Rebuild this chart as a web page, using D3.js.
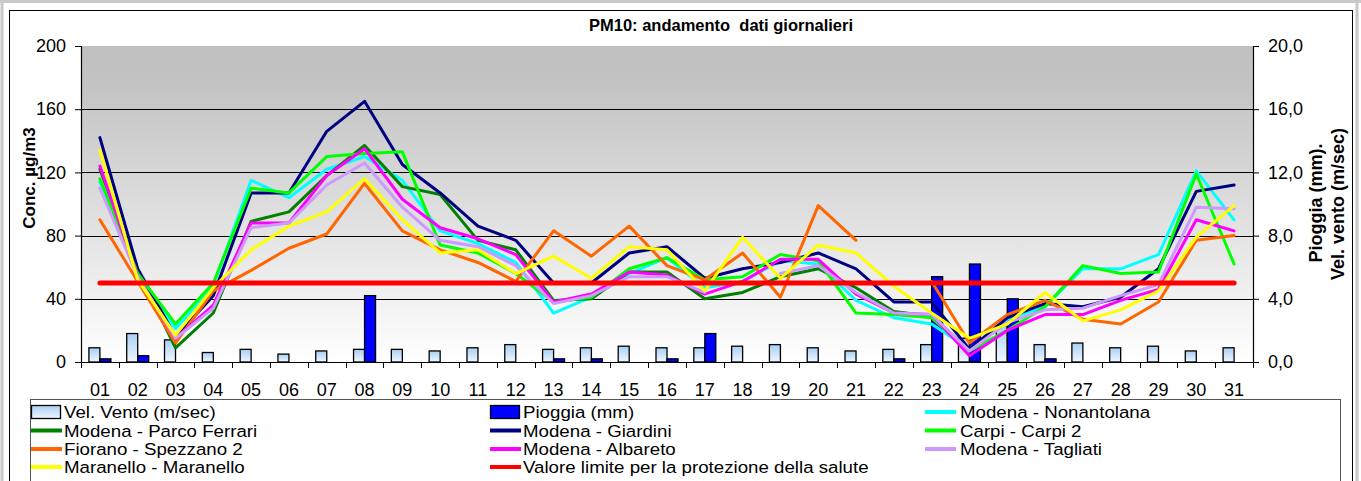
<!DOCTYPE html>
<html>
<head>
<meta charset="utf-8">
<script src="https://cdn.jsdelivr.net/npm/d3@7/dist/d3.min.js"></script>
<style>
  body { margin: 0; background: #fff; }
  svg { display: block; font-family: "Liberation Sans", Arial, sans-serif; }
</style>
</head>
<body>
<div id="chart"></div>
<script>
// Giorni del mese (categorie asse X)
const giorni = ['01','02','03','04','05','06','07','08','09','10','11','12','13','14','15','16',
  '17','18','19','20','21','22','23','24','25','26','27','28','29','30','31'];

// Asse destro: vento (m/sec) e pioggia (mm)
const vento = [0.9,1.8,1.4,0.6,0.8,0.5,0.7,0.8,0.8,0.7,0.9,1.1,0.8,0.9,1.0,0.9,
  0.9,1.0,1.1,0.9,0.7,0.8,1.1,1.5,2.3,1.1,1.2,0.9,1.0,0.7,0.9];
const pioggia = [0.2,0.4,0,0,0,0,0,4.2,0,0,0,0,0.2,0.2,0,0.2,
  1.8,0,0,0,0,0.2,5.4,6.2,4.0,0.2,0,0,0,0,0];

// Asse sinistro: PM10 (µg/m3) per stazione
const nonantolana = [114,55,21,48,115,104,122,130,115,83,75,63,31,41,56,66,
  47,51,64,62,39,28,24,8,27,35,59,59,68,121,90];
const parcoFerrari = [122,58,9,31,89,95,118,137,111,106,77,71,39,40,57,57,
  40,44,54,59,47,32,29,7,null,null,null,null,null,null,null];
const giardini = [142,59,16,42,107,107,146,165,125,107,86,77,50,50,69,73,
  53,59,63,69,59,38,38,8,28,37,35,41,59,108,112];
const carpi2 = [116,56,24,50,110,107,130,132,133,74,69,56,38,41,59,66,
  52,54,68,64,31,30,28,7,20,35,61,56,57,119,62];
const spezzano2 = [90,51,12,45,58,72,81,113,83,71,63,51,83,67,86,61,
  52,69,41,99,77,null,51,12,30,39,27,24,38,77,80];
const albareto = [124,54,15,36,88,88,118,135,103,85,78,68,38,43,57,55,
  43,51,65,65,43,31,30,4,20,30,30,39,46,90,83];
const tagliati = [110,54,15,34,85,88,112,126,98,77,73,61,37,42,54,54,
  44,null,56,61,44,31,30,7,25,33,34,42,49,98,97];
const maranello = [134,52,17,47,71,86,95,116,90,69,71,56,67,53,73,71,
  45,79,53,74,69,48,31,15,24,44,26,33,45,79,99];
const limite = giorni.map(() => 50);

const tickSx = [0, 40, 80, 120, 160, 200];
const tickDx = [0, 4, 8, 12, 16, 20];

const serie = [
  { nome: 'Modena - Nonantolana', colore: '#00ffff', valori: nonantolana },
  { nome: 'Modena - Parco Ferrari', colore: '#008000', valori: parcoFerrari },
  { nome: 'Modena - Giardini', colore: '#000080', valori: giardini },
  { nome: 'Carpi - Carpi 2', colore: '#00ff00', valori: carpi2 },
  { nome: 'Fiorano - Spezzano 2', colore: '#ff6600', valori: spezzano2 },
  { nome: 'Modena - Albareto', colore: '#ff00ff', valori: albareto },
  { nome: 'Modena - Tagliati', colore: '#cc99ff', valori: tagliati },
  { nome: 'Maranello - Maranello', colore: '#ffff00', valori: maranello },
  { nome: 'Valore limite per la protezione della salute', colore: '#ff0000', valori: limite, spessore: 5 }
];

const W = 1361, H = 481;
const area = { left: 81, right: 1253, top: 46, bottom: 362 };
const FONT = '"Liberation Sans", Arial, sans-serif';

const svg = d3.select('#chart').append('svg')
  .attr('width', W)
  .attr('height', H);

const defs = svg.append('defs');
const gSfondo = defs.append('linearGradient').attr('id', 'sfondo')
  .attr('x1', 0).attr('y1', 0).attr('x2', 0).attr('y2', 1);
gSfondo.append('stop').attr('offset', '0%').attr('stop-color', '#c0c0c0');
gSfondo.append('stop').attr('offset', '12%').attr('stop-color', '#c3c3c3');
gSfondo.append('stop').attr('offset', '100%').attr('stop-color', '#ffffff');

const gVento = defs.append('linearGradient').attr('id', 'vento')
  .attr('x1', 0).attr('y1', 0).attr('x2', 0).attr('y2', 1);
gVento.append('stop').attr('offset', '0%').attr('stop-color', '#a9cff5');
gVento.append('stop').attr('offset', '100%').attr('stop-color', '#f0f7ff');

// cornice del foglio
svg.append('line').attr('x1', 0).attr('x2', W).attr('y1', 1.5).attr('y2', 1.5)
  .attr('stroke', '#c8c8c8').attr('stroke-width', 3);
svg.append('line').attr('x1', 2).attr('x2', 2).attr('y1', 0).attr('y2', H)
  .attr('stroke', '#c8c8c8').attr('stroke-width', 3);
svg.append('line').attr('x1', 1357).attr('x2', 1357).attr('y1', 0).attr('y2', H)
  .attr('stroke', '#c8c8c8').attr('stroke-width', 3);
svg.append('rect')
  .attr('x', 9.5).attr('y', 10.5)
  .attr('width', 1343).attr('height', 490)
  .attr('fill', '#fff')
  .attr('stroke', '#000');

// scale
const x = d3.scaleBand().domain(giorni).range([area.left, area.right]);
const y = d3.scaleLinear().domain([0, 200]).range([area.bottom, area.top]);
const y2 = d3.scaleLinear().domain([0, 20]).range([area.bottom, area.top]);
const cx = g => x(g) + x.bandwidth() / 2;

// sfondo area del grafico
svg.append('rect')
  .attr('x', area.left).attr('y', area.top)
  .attr('width', area.right - area.left).attr('height', area.bottom - area.top)
  .attr('fill', 'url(#sfondo)');

// griglia
svg.append('g').selectAll('line')
  .data(tickSx.filter(v => v > 0 && v < 200))
  .join('line')
  .attr('x1', area.left).attr('x2', area.right)
  .attr('y1', d => Math.round(y(d)) + 0.5).attr('y2', d => Math.round(y(d)) + 0.5)
  .attr('stroke', '#000').attr('stroke-width', 1);

// titolo
svg.append('text')
  .attr('x', 721).attr('y', 31)
  .attr('text-anchor', 'middle')
  .attr('xml:space', 'preserve')
  .style('font-weight', 'bold').style('font-size', '16.5px')
  .text('PM10: andamento  dati giornalieri');

// barre vento e pioggia
const barW = 11;
const barre = giorni.map((g, i) => ({ g, vento: vento[i], pioggia: pioggia[i] }));

svg.append('g').selectAll('rect')
  .data(barre.filter(d => d.vento > 0))
  .join('rect')
  .attr('x', d => cx(d.g) - barW)
  .attr('y', d => y2(d.vento))
  .attr('width', barW)
  .attr('height', d => y2(0) - y2(d.vento))
  .attr('fill', 'url(#vento)')
  .attr('stroke', '#000')
  .attr('stroke-width', 1.3);

svg.append('g').selectAll('rect')
  .data(barre.filter(d => d.pioggia > 0))
  .join('rect')
  .attr('x', d => cx(d.g))
  .attr('y', d => y2(d.pioggia))
  .attr('width', barW)
  .attr('height', d => y2(0) - y2(d.pioggia))
  .attr('fill', '#0000ff')
  .attr('stroke', '#000')
  .attr('stroke-width', 1.3);

// linee PM10
const linea = d3.line()
  .defined(d => d.v != null)
  .x(d => cx(d.g))
  .y(d => y(d.v));

svg.append('g').selectAll('path')
  .data(serie)
  .join('path')
  .attr('d', s => linea(giorni.map((g, i) => ({ g, v: s.valori[i] }))))
  .attr('fill', 'none')
  .attr('stroke', s => s.colore)
  .attr('stroke-width', s => s.spessore || 3)
  .attr('stroke-linejoin', 'round')
  .attr('stroke-linecap', 'round');

// assi
const assi = svg.append('g');

assi.append('g')
  .attr('transform', `translate(${area.left},0)`)
  .call(d3.axisLeft(y).tickValues(tickSx).tickSizeOuter(0).tickSize(6).tickPadding(9));

assi.append('g')
  .attr('transform', `translate(${area.right},0)`)
  .call(d3.axisRight(y2).tickValues(tickDx).tickSizeOuter(0).tickSize(6).tickPadding(9)
    .tickFormat(d => d3.format('.1f')(d).replace('.', ',')));

const asseX = assi.append('g')
  .attr('transform', `translate(0,${area.bottom})`)
  .call(d3.axisBottom(x).tickSize(0).tickPadding(21).tickSizeOuter(0));

// tacche tra le categorie
asseX.append('g').selectAll('line')
  .data(giorni.map(g => x(g)).concat([area.right]))
  .join('line')
  .attr('x1', d => Math.round(d) + 0.5).attr('x2', d => Math.round(d) + 0.5)
  .attr('y1', 0).attr('y2', 6)
  .attr('stroke', '#000');

assi.selectAll('g').attr('font-size', null).attr('font-family', null);
assi.selectAll('.domain').attr('stroke', '#000').attr('stroke-width', 1.2);
assi.selectAll('.tick line').attr('stroke', '#000');
assi.selectAll('text')
  .attr('fill', '#000')
  .style('font-family', FONT)
  .style('font-size', '18px');

// titoli assi
svg.append('text')
  .attr('transform', 'translate(35,178) rotate(-90)')
  .attr('text-anchor', 'middle')
  .style('font-weight', 'bold').style('font-size', '17px')
  .text('Conc. µg/m3');

svg.append('text')
  .attr('transform', 'translate(1322,203) rotate(-90)')
  .attr('text-anchor', 'middle')
  .style('font-weight', 'bold').style('font-size', '18px')
  .text('Pioggia (mm).');

svg.append('text')
  .attr('transform', 'translate(1344,204) rotate(-90)')
  .attr('text-anchor', 'middle')
  .style('font-weight', 'bold').style('font-size', '18px')
  .text('Vel. vento (m/sec)');

// legenda
const legenda = svg.append('g');
legenda.append('rect')
  .attr('x', 30.5).attr('y', 399.5)
  .attr('width', 1310).attr('height', 100)
  .attr('fill', '#fff')
  .attr('stroke', '#555');

const voci = [
  { nome: 'Vel. Vento (m/sec)', tipo: 'vento' },
  { nome: 'Pioggia (mm)', tipo: 'pioggia' }
].concat(serie.map(s => ({ nome: s.nome, tipo: 'linea', colore: s.colore })));

const colX = [31, 490, 925];
const rigaY = [412, 430.5, 449, 467];

const voce = legenda.selectAll('g.voce')
  .data(voci)
  .join('g')
  .attr('class', 'voce')
  .attr('transform', (d, i) => `translate(${colX[i % 3]},${rigaY[Math.floor(i / 3)]})`);

voce.filter(d => d.tipo !== 'linea').append('rect')
  .attr('x', 0.5).attr('y', -6.5)
  .attr('width', 29).attr('height', 13)
  .attr('fill', d => d.tipo === 'vento' ? 'url(#vento)' : '#0000ff')
  .attr('stroke', '#000')
  .attr('stroke-width', 1.3);

voce.filter(d => d.tipo === 'linea').append('line')
  .attr('x1', 0).attr('x2', 31)
  .attr('y1', 0).attr('y2', 0)
  .attr('stroke', d => d.colore)
  .attr('stroke-width', 4);

// testo leggermente allargato come nell'originale
voce.append('text')
  .attr('transform', (d, i) => `translate(${(i % 3 === 2) ? 35 : 33},6) scale(1.1,1)`)
  .style('font-size', '17px')
  .text(d => d.nome);
</script>
</body>
</html>
